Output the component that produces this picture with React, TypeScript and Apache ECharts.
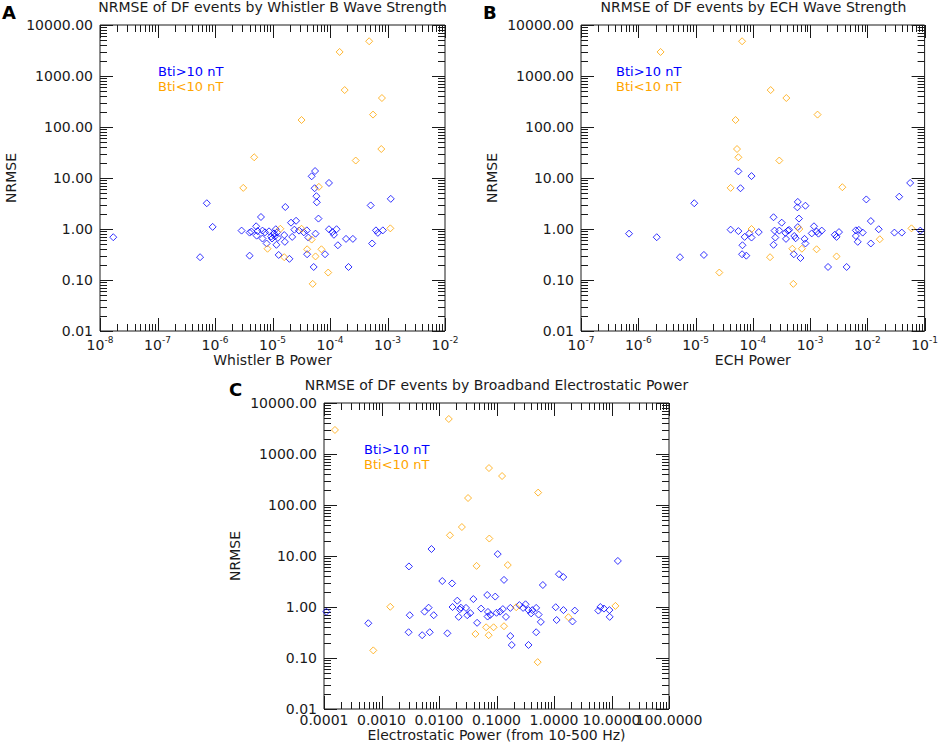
import React, { useEffect, useRef } from 'react';
import * as echarts from 'echarts';

const FF = '"DejaVu Sans", sans-serif';
const BLUE = '#0000ff';
const ORANGE = '#ffa500';
const INK = '#1a1a1a';

// ---- axis ranges (decades) ----
const yRange: [number, number] = [0.01, 10000];
const aXRange: [number, number] = [1e-8, 1e-2];
const bXRange: [number, number] = [1e-7, 1e-1];
const cXRange: [number, number] = [1e-4, 1e2];

const titles = [
  'NRMSE of DF events by Whistler B Wave Strength',
  'NRMSE of DF events by ECH Wave Strength',
  'NRMSE of DF events by Broadband Electrostatic Power',
];
const xNames = ['Whistler B Power', 'ECH Power', 'Electrostatic Power (from 10-500 Hz)'];
const yName = 'NRMSE';
const panelLetters = ['A', 'B', 'C'];
const legendLabels = ['Bti>10 nT', 'Bti<10 nT'];

// ---- Panel A: Whistler B power vs NRMSE ----
const aBlue: [number, number][] = [
  [1.7e-8, 0.69], [5.5e-7, 0.28], [7.2e-7, 3.2], [9.1e-7, 1.1], [2.9e-6, 0.93], [4.0e-6, 0.85],
  [4.3e-6, 0.89], [4.0e-6, 0.30], [5.2e-6, 1.13], [6.3e-6, 1.72], [5.5e-6, 0.91], [5.3e-6, 0.74],
  [6.7e-6, 0.93], [7.4e-6, 0.86], [6.7e-6, 0.65], [7.9e-6, 0.52], [8.7e-6, 0.90], [9.5e-6, 0.71],
  [1.06e-5, 0.82], [1.14e-5, 0.99], [1.2e-5, 0.86], [1.1e-5, 0.72], [9.8e-6, 0.65], [1.24e-5, 0.67],
  [1.17e-5, 0.49], [1.28e-5, 0.31], [1.6e-5, 0.76], [1.64e-5, 0.56], [1.67e-5, 2.7], [1.97e-5, 0.26],
  [2.1e-5, 1.33], [2.2e-5, 0.70], [2.57e-5, 1.45], [2.4e-5, 0.97], [2.9e-5, 0.93], [3.5e-5, 0.86],
  [3.95e-5, 0.94], [4.2e-5, 0.68], [4.0e-5, 0.32], [5.6e-5, 0.81], [4.8e-5, 10.8], [5.5e-5, 13.7],
  [5.4e-5, 6.3], [5.8e-5, 4.4], [5.9e-5, 3.34], [6.3e-5, 1.6], [5.2e-5, 0.18], [9.6e-5, 8.0],
  [9.6e-5, 0.99], [1.1e-4, 0.87], [1.17e-4, 0.77], [1.3e-4, 0.99], [8.2e-5, 0.32], [1.37e-4, 0.48],
  [1.9e-4, 0.64], [2.5e-4, 0.64], [2.1e-4, 0.18], [5.1e-4, 2.9], [5.4e-4, 0.52], [6.3e-4, 0.94],
  [6.8e-4, 0.84], [8.3e-4, 0.94], [1.14e-3, 3.9],
];
const aOrange: [number, number][] = [
  [4.8e-4, 4800], [1.47e-4, 2960], [1.8e-4, 530], [8.0e-4, 370], [5.6e-4, 175], [3.2e-5, 137],
  [7.8e-4, 37], [4.8e-6, 25.5], [2.8e-4, 22], [3.1e-6, 6.4], [6.4e-5, 6.7], [1.12e-3, 1.03],
  [1.37e-5, 1.01], [3.2e-5, 1.01], [4.8e-5, 0.62], [4.0e-5, 0.40], [7.1e-5, 0.40], [8.2e-6, 0.41],
  [1.6e-5, 0.28], [5.6e-5, 0.29], [9.3e-5, 0.14], [5.0e-5, 0.084],
];

// ---- Panel B: ECH power vs NRMSE ----
const bBlue: [number, number][] = [
  [6.9e-7, 0.81], [2.1e-6, 0.69], [5.35e-6, 0.28], [9.5e-6, 3.2], [1.4e-5, 0.31], [5.6e-5, 13.5],
  [6.1e-5, 6.3], [9.5e-5, 10.9], [0.056, 8.0], [0.036, 4.3], [9.6e-3, 3.8], [2.06e-3, 0.18],
  [4.35e-3, 0.18], [0.084, 0.93], [0.0297, 0.85], [0.04, 0.85], [4.1e-5, 0.97], [5.6e-5, 0.91],
  [7.2e-5, 0.70], [6.6e-5, 0.48], [6.5e-5, 0.32], [7.7e-5, 0.30], [8.7e-5, 0.82], [9.5e-5, 0.68],
  [1.27e-4, 0.87], [2.3e-4, 1.7], [2.4e-4, 0.93], [2.47e-4, 0.68], [2.3e-4, 0.49], [2.9e-4, 0.93],
  [3.2e-4, 1.33], [3.7e-4, 0.84], [4.1e-4, 0.93], [4.3e-4, 0.96], [3.8e-4, 0.64], [5.3e-4, 0.73],
  [5.6e-4, 0.66], [6.1e-4, 3.4], [6.0e-4, 2.66], [8.3e-4, 2.86], [6.4e-4, 1.6], [6.1e-4, 1.09],
  [8.0e-4, 0.64], [8.3e-4, 0.52], [5.2e-4, 0.32], [6.8e-4, 0.27], [1.07e-3, 0.82], [1.17e-3, 1.13],
  [1.3e-3, 0.89], [1.4e-3, 0.81], [1.6e-3, 0.93], [2.7e-3, 0.77], [2.9e-3, 0.70], [3.2e-3, 0.87],
  [6.3e-3, 0.94], [6.3e-3, 0.73], [7.1e-3, 0.96], [8.3e-3, 0.85], [6.8e-3, 0.56], [0.0115, 1.43],
  [0.0115, 0.52], [0.0158, 0.99],
];
const bOrange: [number, number][] = [
  [6.5e-5, 4800], [2.45e-6, 2960], [2.05e-4, 530], [3.85e-4, 370], [1.35e-3, 175], [5.0e-5, 137],
  [5.3e-5, 37], [5.6e-5, 25.5], [2.9e-4, 22], [4.1e-5, 6.4], [3.66e-3, 6.6], [9.5e-5, 1.0],
  [6.5e-4, 1.0], [0.059, 1.03], [0.0165, 0.63], [4.9e-4, 0.41], [7.2e-4, 0.41], [1.3e-3, 0.40],
  [2.0e-4, 0.28], [2.9e-3, 0.29], [2.6e-5, 0.14], [5.1e-4, 0.084],
];

// ---- Panel C: broadband electrostatic power vs NRMSE ----
const cBlue: [number, number][] = [
  [1.1e-4, 0.81], [5.9e-4, 0.48], [3.0e-3, 6.25], [3.1e-3, 0.69], [2.96e-3, 0.32], [5.1e-3, 0.28],
  [6.9e-3, 0.32], [5.6e-3, 0.81], [6.6e-3, 0.97], [8.1e-3, 0.69], [7.4e-3, 13.7], [0.0114, 3.23],
  [0.014, 0.305], [0.0169, 2.9], [0.0172, 1.0], [0.0208, 1.33], [0.022, 0.64], [0.023, 0.90],
  [0.024, 0.97], [0.0295, 0.96], [0.031, 0.69], [0.035, 0.76], [0.0396, 1.43], [0.046, 0.49],
  [0.054, 0.93], [0.069, 1.72], [0.071, 0.80], [0.07, 0.65], [0.078, 0.70], [0.095, 1.6],
  [0.1, 0.77], [0.105, 10.9], [0.115, 0.81], [0.135, 3.4], [0.129, 0.91], [0.146, 0.64],
  [0.174, 0.27], [0.184, 0.18], [0.174, 0.96], [0.25, 1.09], [0.29, 0.96], [0.32, 1.13],
  [0.36, 0.87], [0.36, 0.18], [0.40, 0.75], [0.42, 0.87], [0.49, 0.96], [0.49, 0.32],
  [0.54, 0.71], [0.59, 0.51], [0.64, 2.7], [1.07, 0.99], [1.11, 0.556], [1.22, 4.4],
  [1.45, 3.87], [1.46, 0.87], [2.1, 0.52], [2.3, 0.85], [5.9, 0.85], [6.4, 1.0],
  [7.4, 0.93], [9.2, 0.87], [9.3, 0.64], [12.9, 8.0],
];
const cOrange: [number, number][] = [
  [1.55e-4, 2960], [0.0148, 4860], [0.074, 530], [0.125, 370], [0.53, 175], [0.032, 137],
  [0.025, 37], [0.0155, 25.5], [0.075, 22], [0.045, 6.4], [0.157, 6.65], [1.42e-3, 1.01],
  [11.7, 1.05], [0.22, 0.99], [1.78, 0.63], [0.066, 0.40], [0.089, 0.40], [0.135, 0.42],
  [0.043, 0.296], [0.073, 0.28], [7.2e-4, 0.141], [0.52, 0.083],
];

// ---- layout ----
const grids = [
  { left: 100, top: 25, width: 345, height: 306 },
  { left: 581, top: 25, width: 345, height: 306 },
  { left: 324, top: 403, width: 345, height: 306 },
];
const MAJOR_LEN = 13;
const MINOR_LEN = 7;

const dec = (v: number) => Math.round(Math.log10(v));

// tick values of a log axis: decades (major) and 2..9 x decade (minor)
function logTicks(r: [number, number]) {
  const out: { v: number; major: boolean }[] = [];
  for (let e = dec(r[0]); e <= dec(r[1]); e++) {
    out.push({ v: Math.pow(10, e), major: true });
    if (e < dec(r[1])) {
      for (let k = 2; k <= 9; k++) out.push({ v: k * Math.pow(10, e), major: false });
    }
  }
  return out;
}

const labelBase = { fontFamily: FF, fontSize: 14, color: INK };

function axesFor(
  g: number,
  xr: [number, number],
  xFormatter: (v: number) => string,
  xRich: any,
  xName: string,
  xNameGap: number,
) {
  const xAxes: any[] = [
    {
      type: 'log', logBase: 10, gridIndex: g, position: 'bottom', min: xr[0], max: xr[1],
      axisLine: { show: false, onZero: false },
      axisTick: { show: false },
      axisLabel: {
        ...labelBase, show: true, margin: 4, hideOverlap: false,
        formatter: xFormatter, rich: xRich, showMinLabel: true, showMaxLabel: true,
      },
      splitLine: { show: false },
      name: xName, nameLocation: 'middle', nameGap: xNameGap,
      nameTextStyle: labelBase,
    },
  ];
  const yAxes: any[] = [
    {
      type: 'log', logBase: 10, gridIndex: g, position: 'left', min: yRange[0], max: yRange[1],
      axisLine: { show: false, onZero: false },
      axisTick: { show: false },
      axisLabel: {
        ...labelBase, show: true, margin: 7, hideOverlap: false,
        formatter: (val: number) => val.toFixed(2), showMinLabel: true, showMaxLabel: true,
      },
      splitLine: { show: false },
      name: yName, nameLocation: 'middle', nameGap: 82,
      nameTextStyle: labelBase,
    },
  ];
  return { xAxes, yAxes };
}

const powRich = {
  b: { fontFamily: FF, fontSize: 14, color: INK, lineHeight: 20 },
  s: { fontFamily: FF, fontSize: 9, color: INK, lineHeight: 10, verticalAlign: 'top' },
};
const powFormatter = (v: number) => `{b|10}{s|${dec(v)}}`;
const C_LAST = cXRange[1];
// panel C: every label but the last on the main axis, the last one on an overlay axis
const cFormatterMain = (v: number) => (v >= C_LAST * 0.999 ? '' : v.toFixed(4));
const cFormatterLast = (v: number) => (v >= C_LAST * 0.999 ? v.toFixed(4) : '');

function scatter(g: number, data: [number, number][], color: string) {
  return {
    type: 'scatter',
    xAxisIndex: g,
    yAxisIndex: g,
    data,
    symbol: 'diamond',
    symbolSize: 7,
    silent: true,
    z: 3,
    itemStyle: { color: 'rgba(0,0,0,0)', borderColor: color, borderWidth: 1 },
  };
}

// tick marks on all four sides, placed through the axes' own scales
function tickSeries(g: number, xr: [number, number]) {
  const data: number[][] = [];
  logTicks(xr).forEach((t) => data.push([t.v, 1, 0, t.major ? MAJOR_LEN : MINOR_LEN]));
  logTicks(yRange).forEach((t) => data.push([xr[0], t.v, 1, t.major ? MAJOR_LEN : MINOR_LEN]));
  return {
    type: 'custom',
    xAxisIndex: g,
    yAxisIndex: g,
    silent: true,
    clip: false,
    z: 2,
    data,
    renderItem: (params: any, api: any) => {
      const cs = params.coordSys;
      const kind = api.value(2);
      const len = api.value(3);
      const p = api.coord([api.value(0), api.value(1)]);
      const style = { stroke: INK, lineWidth: 1 };
      if (kind === 0) {
        const x = Math.round(p[0]) + 0.5;
        const yb = cs.y + cs.height;
        return {
          type: 'group',
          children: [
            { type: 'line', shape: { x1: x, y1: yb, x2: x, y2: yb - len }, style },
            { type: 'line', shape: { x1: x, y1: cs.y, x2: x, y2: cs.y + len }, style },
          ],
        };
      }
      const y = Math.round(p[1]) + 0.5;
      const xr2 = cs.x + cs.width;
      return {
        type: 'group',
        children: [
          { type: 'line', shape: { x1: cs.x, y1: y, x2: cs.x + len, y2: y }, style },
          { type: 'line', shape: { x1: xr2, y1: y, x2: xr2 - len, y2: y }, style },
        ],
      };
    },
  };
}

function textEl(text: string, x: number, y: number, font: string, fill: string, align = 'left') {
  return {
    type: 'text',
    x,
    y,
    silent: true,
    style: { text, font, fill, textAlign: align, textVerticalAlign: 'middle' },
  };
}

export default function App() {
  const ref = useRef<HTMLDivElement>(null);

  useEffect(() => {
    if (!ref.current) return;
    const chart = echarts.init(ref.current, undefined, { renderer: 'svg' });

    const pA = axesFor(0, aXRange, powFormatter, powRich, xNames[0], 20);
    const pB = axesFor(1, bXRange, powFormatter, powRich, xNames[1], 20);
    const pC = axesFor(2, cXRange, cFormatterMain, undefined, xNames[2], 16);
    const cLastAxis = {
      type: 'log', logBase: 10, gridIndex: 2, position: 'bottom', min: cXRange[0], max: cXRange[1],
      axisLine: { show: false, onZero: false },
      axisTick: { show: false },
      axisLabel: {
        ...labelBase, show: true, margin: 4, hideOverlap: false,
        formatter: cFormatterLast, showMinLabel: true, showMaxLabel: true,
      },
      splitLine: { show: false },
    };

    const titleFont = `14px ${FF}`;
    const letterFont = `bold 18px ${FF}`;
    const legendFont = `13px ${FF}`;

    const legendPos = [
      [158, 71],
      [616, 71],
      [364, 449],
    ];

    const graphics: any[] = [
      textEl(titles[0], 272.5, 7, titleFont, INK, 'center'),
      textEl(titles[1], 753.5, 7, titleFont, INK, 'center'),
      textEl(titles[2], 496.5, 385, titleFont, INK, 'center'),
      textEl(panelLetters[0], 2, 12.5, letterFont, '#000'),
      textEl(panelLetters[1], 483, 12.5, letterFont, '#000'),
      textEl(panelLetters[2], 229, 389, letterFont, '#000'),
    ];
    legendPos.forEach(([x, y]) => {
      graphics.push(textEl(legendLabels[0], x, y, legendFont, BLUE));
      graphics.push(textEl(legendLabels[1], x, y + 15.5, legendFont, ORANGE));
    });

    chart.setOption({
      animation: false,
      backgroundColor: '#ffffff',
      grid: grids.map((g) => ({
        ...g,
        containLabel: false,
        show: true,
        borderColor: INK,
        borderWidth: 1,
        backgroundColor: 'rgba(0,0,0,0)',
      })),
      xAxis: [...pA.xAxes, ...pB.xAxes, ...pC.xAxes, cLastAxis],
      yAxis: [...pA.yAxes, ...pB.yAxes, ...pC.yAxes],
      series: [
        tickSeries(0, aXRange),
        tickSeries(1, bXRange),
        tickSeries(2, cXRange),
        scatter(0, aBlue, BLUE),
        scatter(0, aOrange, ORANGE),
        scatter(1, bBlue, BLUE),
        scatter(1, bOrange, ORANGE),
        scatter(2, cBlue, BLUE),
        scatter(2, cOrange, ORANGE),
      ],
      graphic: { elements: graphics },
    });

    return () => chart.dispose();
  }, []);

  return (
    <div
      ref={ref}
      style={{ position: 'fixed', left: 0, top: 0, width: 941, height: 743, background: '#fff' }}
    />
  );
}
